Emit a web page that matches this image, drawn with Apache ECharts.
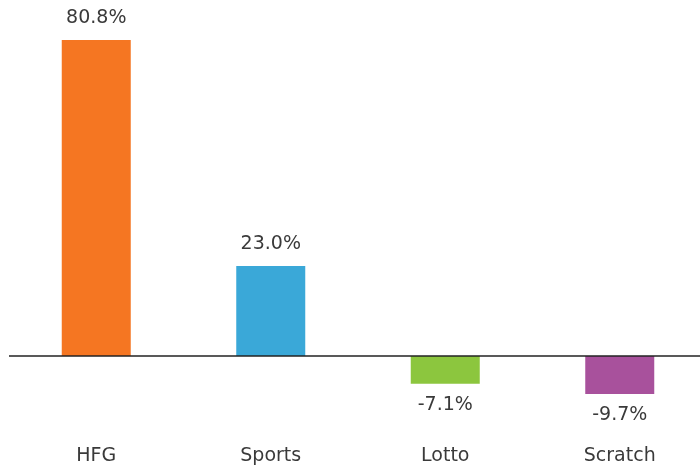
<!DOCTYPE html>
<html>
<head>
<meta charset="utf-8">
<script src="https://cdn.jsdelivr.net/npm/echarts@6/dist/echarts.min.js"></script>
<style>
  html, body { margin: 0; padding: 0; background: #fff; }
  #main { width: 700px; height: 467px; }
</style>
</head>
<body>
<div id="main"></div>
<script>
  // data
  var categories = ['HFG', 'Sports', 'Lotto', 'Scratch'];
  var growth = [80.8, 23.0, -7.1, -9.7];
  var barColors = ['#F57622', '#3AA8D8', '#8CC63E', '#A8519C'];

  var chart = echarts.init(document.getElementById('main'));

  var option = {
    animation: false,
    textStyle: { fontFamily: 'DejaVu Sans' },
    grid: {
      left: 9,
      width: 698,
      top: 4,
      bottom: 32.8,
      containLabel: false,
      outerBoundsMode: 'none'
    },
    xAxis: {
      type: 'category',
      data: categories,
      axisLine: { show: false, onZero: false },
      axisTick: { show: false },
      axisLabel: {
        color: '#3a3a3a',
        fontSize: 19,
        margin: 12
      }
    },
    yAxis: {
      type: 'value',
      min: -20,
      max: 90,
      show: false
    },
    series: [{
      type: 'bar',
      barWidth: 69,
      data: growth.map(function (v, i) {
        return {
          value: v,
          itemStyle: { color: barColors[i] },
          label: { position: v < 0 ? 'bottom' : 'top' }
        };
      }),
      label: {
        show: true,
        distance: 12,
        color: '#3a3a3a',
        fontSize: 19,
        formatter: function (p) { return p.value.toFixed(1) + '%'; }
      },
      markLine: {
        silent: true,
        symbol: 'none',
        label: { show: false },
        lineStyle: { color: '#222', width: 1.5, type: 'solid' },
        data: [{ yAxis: 0 }]
      }
    }]
  };

  chart.setOption(option);
</script>
</body>
</html>
